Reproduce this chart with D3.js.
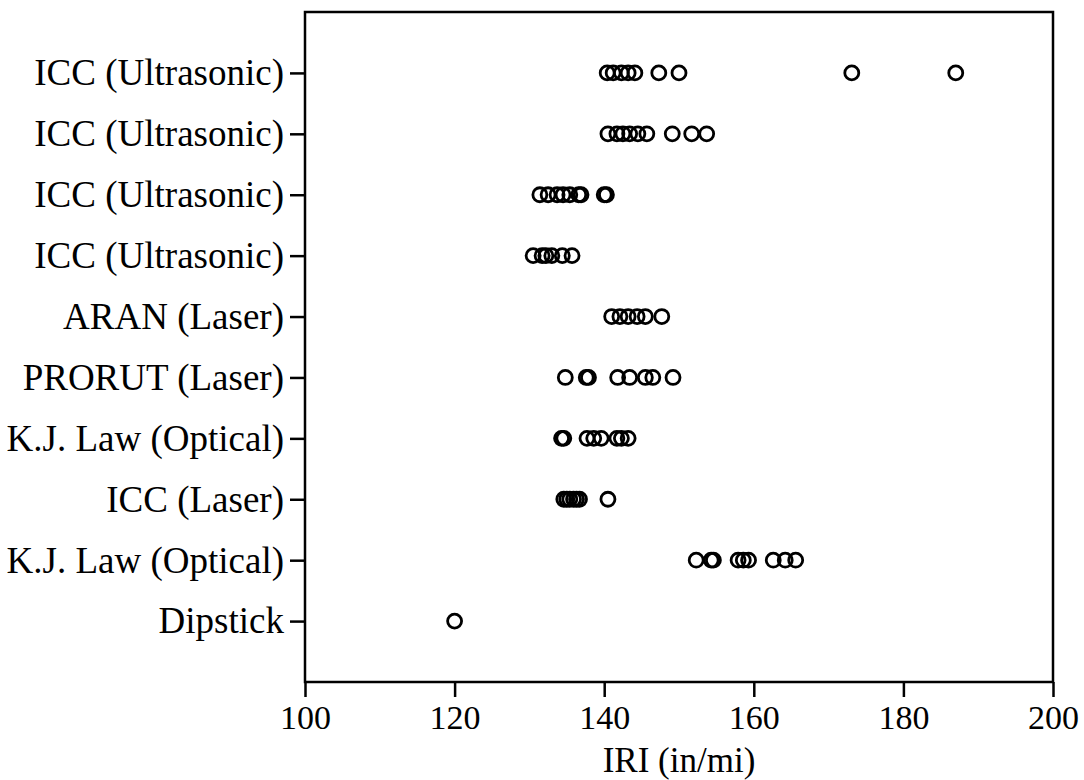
<!DOCTYPE html>
<html>
<head>
<meta charset="utf-8">
<script src="https://cdn.jsdelivr.net/npm/d3@7"></script>
<style>
  body { margin: 0; background: #fff; }
  text { font-family: "Liberation Serif", "Times New Roman", serif; fill: #000; }
</style>
</head>
<body>
<main></main>
<script>
var width = 1084;
var height = 780;

// devices, top to bottom
var devices = [
  'ICC (Ultrasonic)', 'ICC (Ultrasonic)', 'ICC (Ultrasonic)', 'ICC (Ultrasonic)',
  'ARAN (Laser)', 'PRORUT (Laser)', 'K.J. Law (Optical)', 'ICC (Laser)',
  'K.J. Law (Optical)', 'Dipstick'
];

// IRI readings per row (in/mi)
var row0 = [140.4, 141.2, 142.3, 143.2, 144.1, 147.3, 150.0, 173.1, 187.0];
var row1 = [140.5, 141.7, 142.5, 143.4, 144.5, 145.7, 149.1, 151.7, 153.7];
var row2 = [131.4, 132.5, 133.7, 134.5, 135.4, 136.6, 136.9, 140.0, 140.3];
var row3 = [130.5, 131.7, 132.2, 133.0, 134.4, 135.7];
var row4 = [141.0, 142.1, 143.2, 144.4, 145.5, 147.7];
var row5 = [134.8, 137.6, 137.9, 141.8, 143.4, 145.5, 146.5, 149.2];
var row6 = [134.3, 134.6, 137.7, 138.6, 139.6, 141.7, 142.3, 143.2];
var row7 = [134.6, 135.0, 135.4, 135.9, 136.3, 136.7, 140.5];
var row8 = [152.3, 154.3, 154.6, 157.9, 158.6, 159.3, 162.6, 164.2, 165.6];
var row9 = [120.0];
var readings = [row0, row1, row2, row3, row4, row5, row6, row7, row8, row9];

var xTicks = [100, 120, 140, 160, 180, 200];

var margin = { top: 12, right: 31, bottom: 98, left: 305 };
var plotW = width - margin.left - margin.right;
var plotH = height - margin.top - margin.bottom;
var fontSize = 37;
var tickFont = 34;

var svg = d3.select('main').append('svg')
  .attr('width', width)
  .attr('height', height);

var g = svg.append('g')
  .attr('transform', 'translate(' + margin.left + ',' + margin.top + ')');

var x = d3.scaleLinear().domain([100, 200]).range([0, plotW]);
var y = d3.scalePoint().domain(d3.range(devices.length)).range([0, plotH]).padding(1);

// frame
g.append('rect')
  .attr('width', plotW)
  .attr('height', plotH)
  .attr('fill', 'none')
  .attr('stroke', '#000')
  .attr('stroke-width', 2.5);

var xAxis = g.append('g')
  .attr('transform', 'translate(0,' + plotH + ')')
  .call(d3.axisBottom(x).tickValues(xTicks).tickSize(15).tickPadding(8).tickFormat(d3.format('d')));

var yAxis = g.append('g')
  .call(d3.axisLeft(y).tickSize(15).tickPadding(6).tickFormat(function(i) { return devices[i]; }));

[xAxis, yAxis].forEach(function(a) {
  a.select('.domain').remove();
  a.selectAll('line').attr('stroke', '#000').attr('stroke-width', 2.5);
  a.selectAll('text').attr('fill', '#000')
    .style('font-family', '"Liberation Serif", "Times New Roman", serif');
});
yAxis.selectAll('text').attr('font-size', fontSize);
xAxis.selectAll('text').attr('font-size', tickFont);

g.append('text')
  .attr('x', plotW / 2)
  .attr('y', plotH + 90)
  .attr('text-anchor', 'middle')
  .attr('font-size', 35)
  .text('IRI (in/mi)');

readings.forEach(function(vals, i) {
  g.selectAll('.r' + i)
    .data(vals)
    .enter().append('circle')
    .attr('class', 'r' + i)
    .attr('cx', function(d) { return x(d); })
    .attr('cy', y(i))
    .attr('r', 7)
    .attr('fill', 'none')
    .attr('stroke', '#000')
    .attr('stroke-width', 2.8);
});
</script>
</body>
</html>
